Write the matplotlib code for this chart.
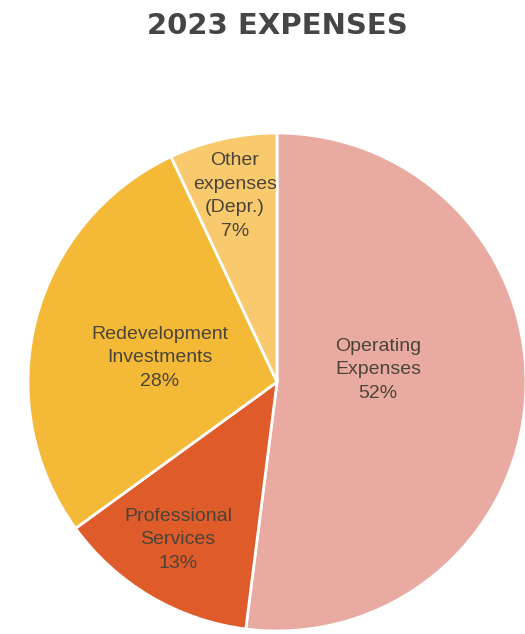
import matplotlib.pyplot as plt

# expense breakdown, drawn clockwise from 12 o'clock
categories = ["Operating\nExpenses", "Professional\nServices",
              "Redevelopment\nInvestments", "Other\nexpenses\n(Depr.)"]
shares = [52, 13, 28, 7]
colors = ["#E9AAA1", "#DF5B2A", "#F3B937", "#F8CA6D"]

# label anchor points (pixel coords, y measured from top)
label_pos = [(378, 370), (178, 540), (160, 358), (235, 196)]

W, H = 525, 634
fig = plt.figure(figsize=(W / 100, H / 100), dpi=100)
ax = fig.add_axes([0, 0, 1, 1])

ax.pie(shares, colors=colors, startangle=90, counterclock=False,
       center=(277, H - 382), radius=249, frame=True,
       wedgeprops=dict(edgecolor="white", linewidth=2))
ax.set_xlim(0, W)
ax.set_ylim(0, H)
ax.axis("off")

for name, val, (x, y) in zip(categories, shares, label_pos):
    ax.text(x, H - y, f"{name}\n{val}%", ha="center", va="center",
            fontsize=14, family="Liberation Sans", color="#4a4538",
            linespacing=1.5)

fig.text(277 / W, 1 - 26 / H, "2023 EXPENSES", ha="center", va="center",
         fontsize=21, fontweight="bold", family="DejaVu Sans", color="#454545")

fig.savefig("out.png", dpi=100)
